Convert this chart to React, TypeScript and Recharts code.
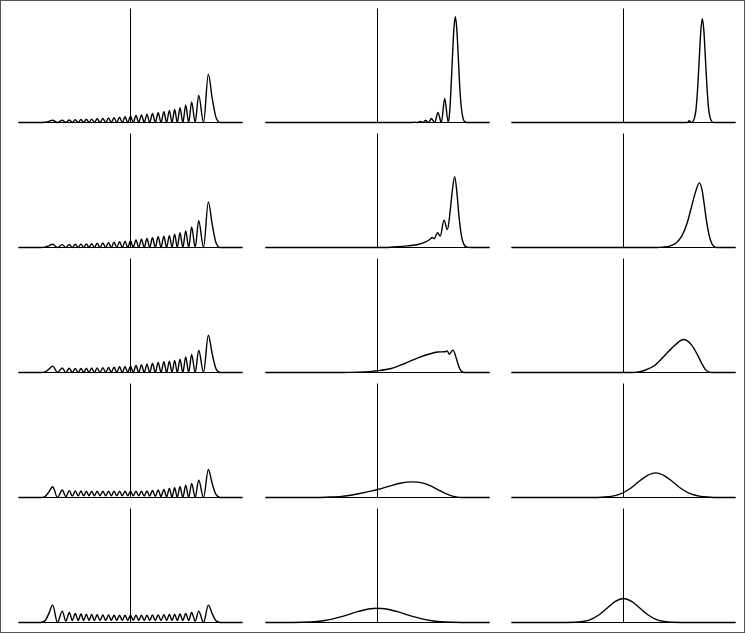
import { LineChart, Line, XAxis, YAxis, ReferenceLine } from "recharts";

type Pt = [number, number];

// column 1: peak and dip positions shared by all five rows
const c1PeakX = [
  -0.695, -0.609, -0.546, -0.493, -0.442, -0.394, -0.347, -0.298, -0.247, -0.196, -0.147, -0.098, -0.049,
  0,
  0.049, 0.098, 0.147, 0.196, 0.247, 0.298, 0.347, 0.394, 0.442, 0.493, 0.546, 0.609, 0.695,
];
const c1DipX = [
  -0.652, -0.5775, -0.5195, -0.4675, -0.418, -0.3705, -0.3225, -0.2725, -0.2215, -0.1715, -0.1225, -0.0735, -0.0245,
  0.0245, 0.0735, 0.1225, 0.1715, 0.2215, 0.2725, 0.3225, 0.3705, 0.418, 0.4675, 0.5195, 0.5775, 0.652,
];
const c1EdgeX = [-1, -0.8, -0.765, -0.73, 0.73, 0.765, 0.8, 1];

const r1Peaks = [
  0.02, 0.02, 0.022, 0.024, 0.026, 0.028, 0.03, 0.033, 0.036, 0.039, 0.042, 0.046, 0.05,
  0.055,
  0.061, 0.067, 0.073, 0.079, 0.085, 0.094, 0.105, 0.114, 0.13, 0.152, 0.18, 0.24, 0.424,
];
const r2Peaks = [
  0.028, 0.025, 0.026, 0.028, 0.03, 0.032, 0.034, 0.037, 0.04, 0.043, 0.046, 0.05, 0.055,
  0.06,
  0.067, 0.073, 0.079, 0.085, 0.094, 0.1, 0.105, 0.117, 0.129, 0.146, 0.18, 0.234, 0.4,
];
const r3Peaks = [
  0.056, 0.04, 0.037, 0.036, 0.036, 0.037, 0.039, 0.041, 0.043, 0.045, 0.047, 0.05, 0.053,
  0.056,
  0.061, 0.067, 0.073, 0.079, 0.088, 0.094, 0.1, 0.105, 0.117, 0.137, 0.158, 0.196, 0.327,
];
const r4Peaks = [
  0.094, 0.066, 0.06, 0.058, 0.057, 0.056, 0.055, 0.055, 0.055, 0.055, 0.055, 0.055, 0.055,
  0.055,
  0.056, 0.056, 0.058, 0.061, 0.067, 0.07, 0.079, 0.085, 0.094, 0.108, 0.123, 0.152, 0.246,
];
const r5Peaks = [
  0.152, 0.1, 0.088, 0.08, 0.075, 0.072, 0.07, 0.068, 0.067, 0.066, 0.065, 0.065, 0.064,
  0.064,
  0.064, 0.065, 0.065, 0.066, 0.067, 0.068, 0.07, 0.072, 0.075, 0.08, 0.088, 0.1, 0.152,
];

const flatDips = [
  0, 0, 0, 0, 0, 0, 0, 0, 0, 0, 0, 0, 0,
  0, 0, 0, 0, 0, 0, 0, 0, 0, 0, 0, 0, 0,
];
const r4Dips = [
  0, 0.008, 0.012, 0.015, 0.015, 0.015, 0.015, 0.015, 0.015, 0.015, 0.015, 0.015, 0.015,
  0.015, 0.015, 0.012, 0.012, 0.01, 0.008, 0.006, 0.004, 0.002, 0, 0, 0, 0,
];
const r5Dips = [
  0, 0.012, 0.018, 0.018, 0.018, 0.018, 0.018, 0.018, 0.018, 0.018, 0.018, 0.018, 0.018,
  0.018, 0.018, 0.018, 0.018, 0.018, 0.018, 0.018, 0.018, 0.018, 0.018, 0.018, 0.012, 0,
];

// heights at c1EdgeX
const r1Edges = [0, 0, 0.002, 0.01, 0.21, 0.04, 0, 0];
const r2Edges = [0, 0, 0.003, 0.014, 0.2, 0.038, 0, 0];
const r3Edges = [0, 0, 0.005, 0.028, 0.16, 0.03, 0, 0];
const r4Edges = [0, 0, 0.008, 0.047, 0.12, 0.024, 0, 0];
const r5Edges = [0, 0, 0.014, 0.076, 0.076, 0.014, 0, 0];

// column 2
const r1c2: Pt[] = [
  [-1, 0], [0.3, 0], [0.332, 0.003], [0.36, 0], [0.385, 0.009], [0.406, 0], [0.43, 0.018], [0.457, 0],
  [0.481, 0.035], [0.51, 0], [0.54, 0.088], [0.57, 0], [0.6, 0.21], [0.632, 0], [0.645, 0.1], [0.655, 0.27],
  [0.668, 0.55], [0.682, 0.82], [0.695, 0.927], [0.708, 0.82], [0.722, 0.56], [0.735, 0.3], [0.749, 0.125],
  [0.763, 0.04], [0.776, 0.01], [0.8, 0], [1, 0],
];
const r2c2: Pt[] = [
  [-1, 0], [0.064, 0], [0.183, 0.006], [0.272, 0.015], [0.362, 0.026], [0.42, 0.044], [0.466, 0.07],
  [0.488, 0.088], [0.506, 0.077], [0.536, 0.13], [0.56, 0.1], [0.594, 0.24], [0.624, 0.158], [0.65, 0.33],
  [0.667, 0.49], [0.689, 0.62], [0.71, 0.47], [0.727, 0.28], [0.748, 0.11], [0.77, 0.03], [0.793, 0.006],
  [0.838, 0], [1, 0],
];
const r3c2: Pt[] = [
  [-1, 0], [-0.32, 0], [-0.174, 0.003], [-0.05, 0.01], [0, 0.015], [0.123, 0.035], [0.243, 0.079],
  [0.362, 0.129], [0.481, 0.167], [0.54, 0.18], [0.6, 0.182], [0.623, 0.19], [0.64, 0.16], [0.674, 0.196],
  [0.704, 0.123], [0.727, 0.05], [0.748, 0.012], [0.778, 0], [1, 0],
];
const r4c2: Pt[] = [
  [-1, 0], [-0.55, 0], [-0.45, 0.003], [-0.32, 0.01], [-0.17, 0.033], [-0.05, 0.058], [0, 0.07], [0.1, 0.098],
  [0.2, 0.125], [0.317, 0.137], [0.4, 0.128], [0.48, 0.1], [0.55, 0.063], [0.62, 0.03], [0.7, 0.006],
  [0.76, 0], [1, 0],
];
const r5c2: Pt[] = [
  [-1, 0], [-0.75, 0], [-0.6, 0.004], [-0.47, 0.018], [-0.32, 0.052], [-0.17, 0.097], [-0.08, 0.118],
  [0, 0.125], [0.08, 0.118], [0.17, 0.097], [0.32, 0.052], [0.47, 0.018], [0.6, 0.004], [0.75, 0], [1, 0],
];

// column 3
const r1c3: Pt[] = [
  [-1, 0], [0.57, 0], [0.588, 0.015], [0.605, 0], [0.62, 0.01], [0.634, 0.04], [0.648, 0.12], [0.662, 0.3],
  [0.676, 0.55], [0.69, 0.8], [0.704, 0.91], [0.718, 0.8], [0.732, 0.55], [0.746, 0.3], [0.76, 0.12],
  [0.774, 0.04], [0.788, 0.01], [0.8, 0], [1, 0],
];
const r2c3: Pt[] = [
  [-1, 0], [0.3, 0], [0.35, 0.003], [0.42, 0.015], [0.47, 0.04], [0.52, 0.1], [0.57, 0.22], [0.608, 0.36],
  [0.644, 0.49], [0.677, 0.567], [0.704, 0.49], [0.722, 0.37], [0.743, 0.22], [0.772, 0.079],
  [0.802, 0.015], [0.832, 0], [1, 0],
];
const r3c3: Pt[] = [
  [-1, 0], [0.073, 0], [0.132, 0.005], [0.192, 0.02], [0.281, 0.064], [0.37, 0.152], [0.46, 0.24],
  [0.534, 0.289], [0.609, 0.24], [0.662, 0.152], [0.707, 0.064], [0.742, 0.015], [0.787, 0], [1, 0],
];
const r4c3: Pt[] = [
  [-1, 0], [-0.25, 0], [-0.19, 0.003], [-0.11, 0.01], [-0.033, 0.029], [0.047, 0.07], [0.127, 0.131],
  [0.207, 0.19], [0.287, 0.216], [0.367, 0.19], [0.447, 0.131], [0.527, 0.07], [0.607, 0.029],
  [0.687, 0.01], [0.767, 0.003], [0.83, 0], [1, 0],
];
const r5c3: Pt[] = [
  [-1, 0], [-0.6, 0], [-0.435, 0.002], [-0.3625, 0.009], [-0.29, 0.028], [-0.2175, 0.068], [-0.145, 0.127],
  [-0.0725, 0.185], [0, 0.21], [0.0725, 0.185], [0.145, 0.127], [0.2175, 0.068], [0.29, 0.028],
  [0.3625, 0.009], [0.435, 0.002], [0.6, 0], [1, 0],
];

function buildWave(peaks: number[], dips: number[], edges: number[]) {
  const out: { x: number; y: number }[] = [];
  for (let i = 0; i < 4; i++) out.push({ x: c1EdgeX[i], y: edges[i] });
  c1PeakX.forEach((x, i) => {
    out.push({ x, y: peaks[i] });
    if (i < c1DipX.length) out.push({ x: c1DipX[i], y: dips[i] });
  });
  for (let i = 4; i < 8; i++) out.push({ x: c1EdgeX[i], y: edges[i] });
  return out;
}

const toRows = (pts: Pt[]) => pts.map(([x, y]) => ({ x, y }));

const grid = [
  [buildWave(r1Peaks, flatDips, r1Edges), toRows(r1c2), toRows(r1c3)],
  [buildWave(r2Peaks, flatDips, r2Edges), toRows(r2c2), toRows(r2c3)],
  [buildWave(r3Peaks, flatDips, r3Edges), toRows(r3c2), toRows(r3c3)],
  [buildWave(r4Peaks, r4Dips, r4Edges), toRows(r4c2), toRows(r4c3)],
  [buildWave(r5Peaks, r5Dips, r5Edges), toRows(r5c2), toRows(r5c3)],
];

const colCenters = [130.5, 377.5, 623.5];
const rowBaselines = [122.5, 247.5, 372.5, 497.5, 622.5];
const HALF_W = 112;
const PLOT_H = 114;
// half-pixel margins so that the 1px axis lines land on whole pixels
const margin = { top: 2.5, right: 2.5, bottom: 2.5, left: 2.5 };

function Panel({ data, left, top }: { data: { x: number; y: number }[]; left: number; top: number }) {
  return (
    <div style={{ position: "absolute", left, top }}>
      <LineChart
        width={HALF_W * 2 + margin.left + margin.right}
        height={PLOT_H + margin.top + margin.bottom}
        data={data}
        margin={margin}
      >
        <XAxis type="number" dataKey="x" domain={[-1, 1]} hide />
        <YAxis type="number" domain={[0, 1]} hide />
        <ReferenceLine x={0} stroke="#000" strokeWidth={1} />
        <ReferenceLine y={0} stroke="#000" strokeWidth={1} />
        <Line
          type="monotone"
          dataKey="y"
          stroke="#000"
          strokeWidth={1.4}
          dot={false}
          activeDot={false}
          isAnimationActive={false}
        />
      </LineChart>
    </div>
  );
}

export default function App() {
  return (
    <div style={{ position: "absolute", left: 0, top: 0, width: 745, height: 633, background: "#fff" }}>
      <div
        style={{
          position: "absolute",
          left: 0,
          top: 0,
          width: 745,
          height: 633,
          boxSizing: "border-box",
          border: "1px solid #555",
        }}
      />
      {grid.map((row, r) =>
        row.map((data, c) => (
          <Panel
            key={`${r}-${c}`}
            data={data}
            left={colCenters[c] - HALF_W - margin.left}
            top={rowBaselines[r] - PLOT_H - margin.top}
          />
        ))
      )}
    </div>
  );
}
